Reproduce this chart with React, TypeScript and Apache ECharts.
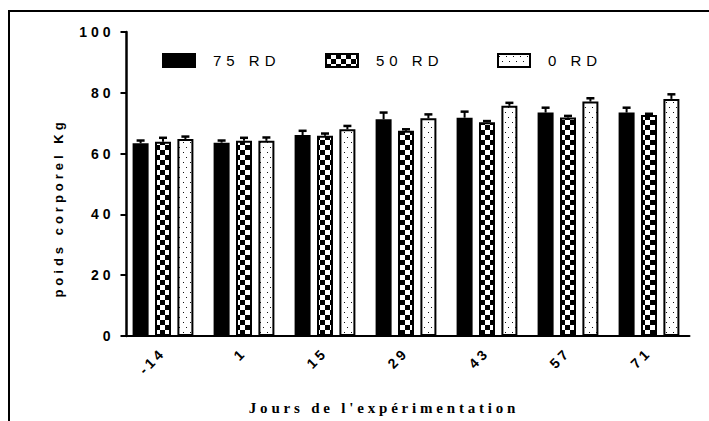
import React, { useEffect, useRef } from 'react';
import * as echarts from 'echarts';

// Jours de l'expérimentation (catégories)
const days = ['-14', '1', '15', '29', '43', '57', '71'];
const seriesNames = ['75 RD', '50 RD', '0 RD'];

// Poids corporel moyen (kg) et erreur standard par lot
const mean75 = [63.4, 63.6, 66.1, 71.3, 71.8, 73.5, 73.5];
const sem75 = [0.9, 0.7, 1.4, 2.2, 2.0, 1.6, 1.6];
const mean50 = [63.9, 64.2, 65.9, 67.5, 70.3, 71.9, 72.7];
const sem50 = [1.3, 1.0, 0.7, 0.5, 0.4, 0.5, 0.4];
const mean0 = [64.8, 64.2, 68.0, 71.6, 75.7, 77.1, 78.0];
const sem0 = [0.8, 1.1, 1.1, 1.3, 1.0, 1.1, 1.5];

const yTicks = [0, 20, 40, 60, 80, 100];

const SANS = 'Arial, "Liberation Sans", sans-serif';
const SERIF = '"Liberation Serif", "Times New Roman", serif';

function checkerPattern(): HTMLCanvasElement {
  const c = document.createElement('canvas');
  c.width = 10;
  c.height = 10;
  const g = c.getContext('2d')!;
  g.fillStyle = '#fff';
  g.fillRect(0, 0, 10, 10);
  g.fillStyle = '#000';
  g.fillRect(0, 0, 5, 5);
  g.fillRect(5, 5, 5, 5);
  return c;
}

function dotPattern(): HTMLCanvasElement {
  const c = document.createElement('canvas');
  c.width = 7;
  c.height = 10;
  const g = c.getContext('2d')!;
  g.fillStyle = '#fff';
  g.fillRect(0, 0, 7, 10);
  g.fillStyle = '#111';
  g.fillRect(1, 2, 1, 1);
  g.fillRect(4, 7, 1, 1);
  return c;
}

const BAR_W = 16;
const BAR_GAP = 0.4;

export default function App() {
  const ref = useRef<HTMLDivElement>(null);

  useEffect(() => {
    if (!ref.current) return;
    const chart = echarts.init(ref.current, null, { renderer: 'svg' });

    const fills: any[] = [
      '#000',
      { image: checkerPattern(), repeat: 'repeat' },
      { image: dotPattern(), repeat: 'repeat' },
    ];
    const means = [mean75, mean50, mean0];
    const sems = [sem75, sem50, sem0];
    const legendLeft = [157, 320, 492];

    const bars = seriesNames.map((name, i) => ({
      type: 'bar',
      name,
      data: means[i],
      barWidth: BAR_W,
      barGap: `${BAR_GAP * 100}%`,
      itemStyle: { color: fills[i], borderColor: '#000', borderWidth: 2 },
      emphasis: { disabled: true },
    }));

    const errors = seriesNames.map((name, i) => {
      const offset = (i - 1) * BAR_W * (1 + BAR_GAP);
      return {
        type: 'custom',
        name: name + ' SEM',
        silent: true,
        z: 5,
        data: means[i].map((m, k) => [k, m, sems[i][k]]),
        encode: { x: 0, y: 1 },
        renderItem: (_p: any, api: any) => {
          const base = api.coord([api.value(0), api.value(1)]);
          const top = api.coord([api.value(0), api.value(1) + api.value(2)]);
          const x = base[0] + offset;
          return {
            type: 'group',
            children: [
              { type: 'line', shape: { x1: x, y1: base[1], x2: x, y2: top[1] }, style: { stroke: '#000', lineWidth: 2 } },
              { type: 'line', shape: { x1: x - 4, y1: top[1], x2: x + 4, y2: top[1] }, style: { stroke: '#000', lineWidth: 2.5 } },
            ],
          };
        },
      };
    });

    chart.setOption({
      animation: false,
      backgroundColor: '#fff',
      grid: { left: 122.5, right: 19.5, top: 32, bottom: 85, containLabel: false },
      legend: seriesNames.map((n, i) => ({
        data: [n],
        left: legendLeft[i],
        top: 48,
        icon: 'rect',
        itemWidth: 32,
        itemHeight: 13,
        selectedMode: false,
        textStyle: { fontFamily: SANS, fontSize: 15, color: '#000', padding: [0, 0, 0, 13] },
      })),
      xAxis: {
        type: 'category',
        data: days,
        axisLine: { lineStyle: { color: '#000', width: 2 } },
        axisTick: { alignWithLabel: true, length: 6, lineStyle: { color: '#000', width: 2 } },
        axisLabel: {
          interval: 0,
          rotate: 45,
          margin: 14,
          fontFamily: SANS,
          fontSize: 14,
          fontWeight: 'bold',
          color: '#000',
        },
      },
      yAxis: {
        type: 'value',
        min: yTicks[0],
        max: yTicks[yTicks.length - 1],
        interval: yTicks[1] - yTicks[0],
        offset: -4,
        splitLine: { show: false },
        axisLine: { show: true, lineStyle: { color: '#000', width: 2.5 } },
        axisTick: { show: true, length: 6, lineStyle: { color: '#000', width: 2 } },
        axisLabel: {
          margin: 12,
          fontFamily: SANS,
          fontSize: 14,
          fontWeight: 'bold',
          color: '#000',
        },
      },
      graphic: [
        { type: 'line', shape: { x1: 8, y1: 11, x2: 709, y2: 11 }, style: { stroke: '#000', lineWidth: 2 } },
        { type: 'line', shape: { x1: 9, y1: 10, x2: 9, y2: 421 }, style: { stroke: '#000', lineWidth: 2 } },
        {
          type: 'text',
          x: 58,
          y: 208,
          rotation: Math.PI / 2,
          style: {
            text: 'poids corporel Kg',
            font: `bold 13px ${SANS}`,
            fill: '#000',
            textAlign: 'center',
            textVerticalAlign: 'middle',
          },
        },
        {
          type: 'text',
          x: 384,
          y: 408,
          style: {
            text: "Jours de l'expérimentation",
            font: `bold 15px ${SERIF}`,
            fill: '#000',
            textAlign: 'center',
            textVerticalAlign: 'middle',
          },
        },
      ],
      series: [...bars, ...errors],
    });

    // widen the tracking of the chart's texts
    const spacing = (s: string): number | null => {
      if (seriesNames.includes(s)) return 5;
      if (days.includes(s)) return 3.5;
      if (yTicks.map(String).includes(s)) return 4;
      if (s === 'poids corporel Kg') return 4;
      if (s === "Jours de l'expérimentation") return 3.8;
      return null;
    };
    ref.current.querySelectorAll('svg text').forEach((t) => {
      const v = spacing((t.textContent || '').trim());
      if (v !== null) t.setAttribute('letter-spacing', String(v));
    });

    return () => chart.dispose();
  }, []);

  return (
    <div
      ref={ref}
      style={{ position: 'fixed', left: 0, top: 0, width: 709, height: 421, background: '#fff' }}
    />
  );
}
